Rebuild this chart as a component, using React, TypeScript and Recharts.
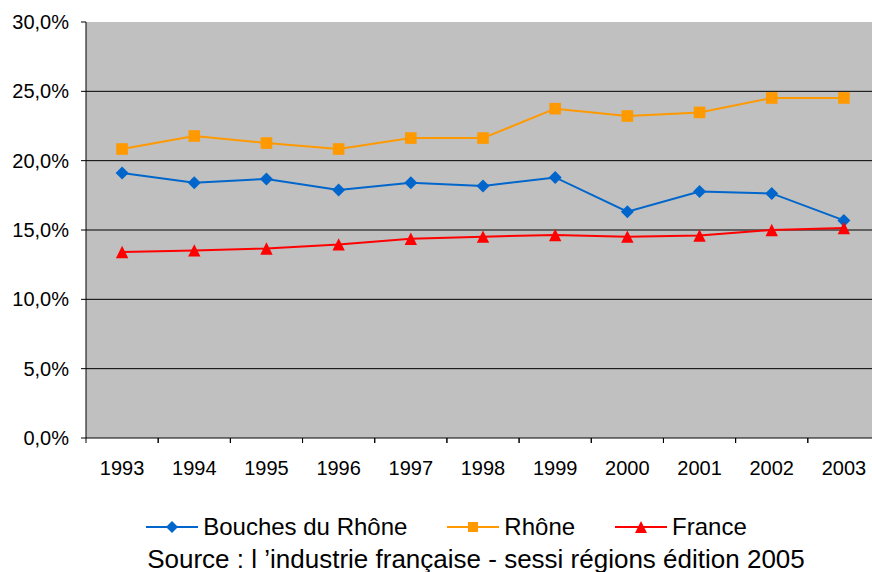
import { LineChart, Line, XAxis, YAxis, CartesianGrid } from 'recharts';

const years = ['1993', '1994', '1995', '1996', '1997', '1998', '1999', '2000', '2001', '2002', '2003'];
const bouchesDuRhone = [19.11, 18.41, 18.68, 17.88, 18.41, 18.17, 18.79, 16.32, 17.78, 17.64, 15.69];
const rhone = [20.84, 21.78, 21.27, 20.84, 21.63, 21.63, 23.75, 23.22, 23.48, 24.52, 24.52];
const france = [13.41, 13.53, 13.67, 13.96, 14.37, 14.52, 14.64, 14.52, 14.6, 15.0, 15.14];
const yTicks = [0, 5, 10, 15, 20, 25, 30];
const gridValues = [5, 10, 15, 20, 25];

const BLUE = '#0066CC';
const ORANGE = '#FF9900';
const RED = '#FF0000';
const FONT = '"Liberation Sans", Arial, sans-serif';

const data = years.map((year, i) => ({
  year,
  bdr: bouchesDuRhone[i],
  rhone: rhone[i],
  france: france[i],
}));

const fmtPct = (v: number) => `${v.toFixed(1).replace('.', ',')}%`;

const Diamond = ({ cx, cy, s = 6.5 }: any) =>
  cx == null ? null : (
    <path d={`M${cx},${cy - s}L${cx + s},${cy}L${cx},${cy + s}L${cx - s},${cy}Z`} fill={BLUE} />
  );

const Square = ({ cx, cy, s = 5.8 }: any) =>
  cx == null ? null : <rect x={cx - s} y={cy - s} width={s * 2} height={s * 2} fill={ORANGE} />;

const Triangle = ({ cx, cy, s = 6.2 }: any) =>
  cx == null ? null : (
    <path d={`M${cx},${cy - s}L${cx + s},${cy + s}L${cx - s},${cy + s}Z`} fill={RED} />
  );

// half a category step: the axis is padded by this on both sides
const HALF_STEP = 36.1;

// year label + tick mark on the category boundary (Excel "between categories" style)
const YearTick = (props: any) => {
  const { x, y, payload } = props;
  return (
    <g>
      <line x1={x - HALF_STEP} x2={x - HALF_STEP} y1={y - 23} y2={y - 18} stroke="#000" />
      <line x1={x + HALF_STEP} x2={x + HALF_STEP} y1={y - 23} y2={y - 18} stroke="#000" />
      <text x={x} y={y} dy="0.71em" textAnchor="middle" fontSize={20} fill="#000" fontFamily={FONT}>
        {payload.value}
      </text>
    </g>
  );
};

const legendItems = [
  { name: 'Bouches du Rhône', color: BLUE, Marker: Diamond },
  { name: 'Rhône', color: ORANGE, Marker: Square },
  { name: 'France', color: RED, Marker: Triangle },
];

export default function App() {
  return (
    <div
      style={{
        position: 'absolute',
        left: 0,
        top: 0,
        width: 872,
        height: 572,
        overflow: 'hidden',
        background: '#fff',
        fontFamily: FONT,
      }}
    >
      <LineChart
        width={880}
        height={572}
        data={data}
        margin={{ top: 22, right: 0, bottom: 0, left: 0 }}
        style={{ fontFamily: FONT }}
      >
        <CartesianGrid vertical={false} horizontalValues={gridValues} stroke="#000" fill="#C0C0C0" />
        <XAxis
          dataKey="year"
          height={134}
          padding={{ left: HALF_STEP, right: HALF_STEP }}
          tickLine={false}
          tickSize={0}
          tickMargin={23}
          interval={0}
          axisLine={{ stroke: '#000' }}
          tick={<YearTick />}
        />
        <YAxis
          width={86}
          domain={[0, 30]}
          ticks={yTicks}
          interval={0}
          tickFormatter={fmtPct}
          tickSize={5}
          tickMargin={12}
          tickLine={{ stroke: '#000' }}
          axisLine={{ stroke: '#000' }}
          tick={{ fill: '#000', fontSize: 20, fontFamily: FONT }}
        />
        <Line
          dataKey="rhone"
          stroke={ORANGE}
          strokeWidth={2}
          dot={<Square />}
          activeDot={false}
          isAnimationActive={false}
        />
        <Line
          dataKey="bdr"
          stroke={BLUE}
          strokeWidth={2}
          dot={<Diamond />}
          activeDot={false}
          isAnimationActive={false}
        />
        <Line
          dataKey="france"
          stroke={RED}
          strokeWidth={2}
          dot={<Triangle />}
          activeDot={false}
          isAnimationActive={false}
        />
      </LineChart>

      <div
        style={{
          position: 'absolute',
          left: 0,
          top: 512,
          width: 893,
          display: 'flex',
          justifyContent: 'center',
          gap: 40,
          fontSize: 24,
          lineHeight: '30px',
          color: '#000',
        }}
      >
        {legendItems.map(({ name, color, Marker }) => (
          <div key={name} style={{ display: 'flex', alignItems: 'center' }}>
            <svg width={52} height={16}>
              <line x1={0} x2={52} y1={8} y2={8} stroke={color} strokeWidth={2} />
              <Marker cx={26} cy={8} s={color === ORANGE ? 5 : 6} />
            </svg>
            <span style={{ marginLeft: 5 }}>{name}</span>
          </div>
        ))}
      </div>

      <div
        style={{
          position: 'absolute',
          left: 0,
          top: 548,
          width: 952,
          textAlign: 'center',
          fontSize: 26,
          lineHeight: '22px',
          color: '#000',
          whiteSpace: 'nowrap',
        }}
      >
        Source : l ’industrie française - sessi régions édition 2005
      </div>
    </div>
  );
}
